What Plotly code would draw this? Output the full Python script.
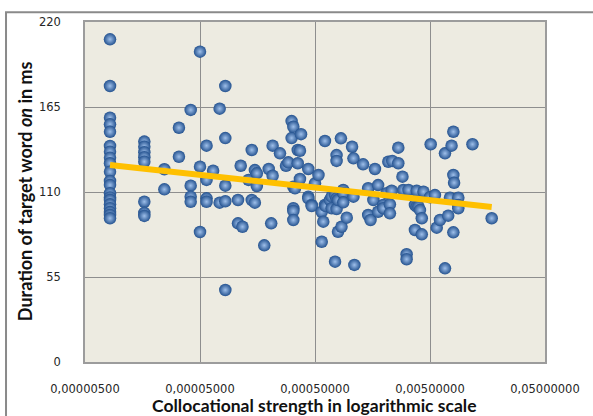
import plotly.graph_objects as go

# Collocational strength (x, log scale) and the durations (ms) observed at each strength
strength_levels = [
    8.25e-6, 1.64e-5, 2.45e-5, 3.28e-5, 4.15e-5, 5.0e-5, 5.7e-5, 6.5e-5, 7.41e-5, 8.3e-5,
    1.07e-4, 1.13e-4, 1.17e-4, 1.32e-4, 1.41e-4, 1.5e-4, 1.56e-4, 1.81e-4, 1.98e-4, 2.08e-4,
    2.14e-4, 2.48e-4, 2.8e-4, 2.93e-4, 3.13e-4, 3.24e-4, 3.35e-4, 3.54e-4, 3.7e-4, 3.78e-4,
    4.37e-4, 4.68e-4, 5.0e-4, 5.36e-4, 5.72e-4, 5.9e-4, 6.1e-4, 6.2e-4, 6.75e-4, 6.98e-4,
    7.47e-4, 7.7e-4, 7.93e-4, 8.4e-4, 8.5e-4, 8.8e-4, 9.44e-4, 1.05e-3, 1.08e-3, 1.1e-3,
    1.31e-3, 1.45e-3, 1.52e-3, 1.61e-3, 1.66e-3, 1.77e-3, 1.96e-3, 2.1e-3, 2.17e-3, 2.24e-3,
    2.32e-3, 2.35e-3, 2.65e-3, 2.88e-3, 2.93e-3, 3.13e-3, 3.25e-3, 3.7e-3, 3.83e-3, 3.97e-3,
    4.09e-3, 4.24e-3, 4.39e-3, 5.0e-3, 5.07e-3, 5.52e-3, 5.72e-3, 6.11e-3, 6.75e-3, 7.2e-3,
    7.46e-3, 7.7e-3, 7.98e-3, 8.1e-3, 8.81e-3, 1.17e-2, 1.72e-2,
]
durations_at_level = [
    [208.8, 178.6, 158.1, 153.8, 149.0, 139.8, 136.1, 132.2, 128.6, 123.1,
     117.1, 114.5, 109.2, 106.5, 104.8, 102.0, 99.5, 97.0, 95.1, 93.0],
    [142.6, 139.3, 135.7, 132.5, 129.6, 103.7, 96.5, 94.5],
    [124.7, 111.7],
    [151.6, 132.8],
    [163.1, 114.1, 107.0, 103.7],
    [200.8, 126.4, 84.1],
    [140.0, 117.8, 105.9, 103.7],
    [123.8],
    [163.9, 103.1],
    [178.6, 144.9, 114.1, 104.0, 46.6],
    [104.8, 89.7],
    [127.0],
    [87.5],
    [117.8],
    [137.2, 104.8],
    [124.2, 103.1],
    [122.1, 113.9],
    [75.5],
    [124.9],
    [89.7],
    [140.0, 120.5],
    [135.0],
    [127.0],
    [129.2],
    [155.9, 144.9],
    [152.2, 113.4, 99.5, 97.7, 91.9],
    [112.4],
    [137.2, 128.6],
    [136.7, 118.4],
    [147.4],
    [124.9, 107.0, 105.9],
    [101.6, 100.9],
    [115.6],
    [121.0],
    [97.2, 77.8],
    [90.8],
    [143.0, 101.6],
    [100.9],
    [104.8],
    [107.0, 99.5],
    [108.0, 64.9],
    [133.9, 130.1, 105.9, 99.0],
    [104.8, 84.3],
    [144.7],
    [87.5],
    [111.3, 109.2, 103.3],
    [93.4],
    [139.3],
    [131.8, 107.0],
    [62.8],
    [127.9],
    [112.4, 95.1],
    [91.9],
    [104.8],
    [124.9],
    [114.5, 97.2],
    [101.6, 99.5],
    [109.2],
    [129.6],
    [102.0, 96.2],
    [110.8],
    [130.1],
    [138.7, 128.6],
    [119.9],
    [111.3],
    [69.7, 66.5],
    [111.3],
    [101.6, 85.4],
    [110.8, 100.5],
    [100.5],
    [98.3],
    [93.0, 82.6],
    [110.2],
    [106.6],
    [140.9],
    [108.0],
    [86.9],
    [91.9],
    [135.0, 60.6],
    [94.7],
    [106.3],
    [140.0],
    [149.0, 121.0, 83.9],
    [116.0],
    [106.3, 101.6, 99.5],
    [140.9],
    [93.0],
]

# Logarithmic trend line end points
trend_x = [8.25e-6, 1.72e-2]
trend_y = [127.5, 100.3]

x_tick_values = [5e-6, 5e-5, 5e-4, 5e-3, 5e-2]
x_tick_labels = ["0,00000500", "0,00005000", "0,00050000", "0,00500000", "0,05000000"]
y_tick_values = [0, 55, 110, 165, 220]
y_tick_labels = ["0", "55", "110", "165", "220"]

xs, ys = [], []
for s, ds in zip(strength_levels, durations_at_level):
    for d in ds:
        xs.append(s)
        ys.append(d)

fig = go.Figure()
fig.add_trace(go.Scatter(
    x=xs, y=ys, mode="markers",
    marker=dict(size=12.5, color="#24528F",
                gradient=dict(type="radial", color="#9EBFEA"),
                line=dict(width=0)),
    showlegend=False, hoverinfo="x+y",
))
fig.add_trace(go.Scatter(
    x=trend_x, y=trend_y, mode="lines",
    line=dict(color="#FFC000", width=6),
    showlegend=False, hoverinfo="skip",
))

tick_font = dict(family="DejaVu Sans, Verdana, sans-serif", size=11.5, color="#262626")
title_font = dict(family="Lato, Open Sans, sans-serif", size=17.5, color="#111111")

fig.update_layout(
    width=593, height=416,
    margin=dict(l=85, r=48, t=22, b=54),
    paper_bgcolor="white",
    plot_bgcolor="#EDEBE1",
    xaxis=dict(
        type="log",
        range=[-5.30103, -1.30103],
        tickmode="array", tickvals=x_tick_values, ticktext=x_tick_labels,
        tickfont=tick_font, ticks="", ticklabelstandoff=15,
        showgrid=True, gridcolor="#8E8E8E", gridwidth=1,
        showline=True, linecolor="#9C9C9C", linewidth=1.5, mirror=True,
        zeroline=False,
    ),
    yaxis=dict(
        range=[0, 220],
        tickmode="array", tickvals=y_tick_values, ticktext=y_tick_labels,
        tickfont=tick_font, ticks="", ticklabelstandoff=20,
        showgrid=True, gridcolor="#8E8E8E", gridwidth=1,
        showline=True, linecolor="#9C9C9C", linewidth=1.5, mirror=True,
        zeroline=False,
    ),
    annotations=[
        dict(text="<b>Collocational strength in logarithmic scale</b>",
             xref="paper", yref="paper", x=0.497, y=-0.129,
             xanchor="center", yanchor="middle", showarrow=False, font=title_font),
        dict(text="<b>Duration of target word <i>on</i> in ms</b>",
             xref="paper", yref="paper", x=-0.130, y=0.503,
             xanchor="center", yanchor="middle", textangle=-90,
             showarrow=False, font=dict(family="Lato, Open Sans, sans-serif", size=18, color="#111111")),
    ],
    shapes=[
        dict(type="rect", xref="paper", yref="paper",
             x0=-0.1717, x1=1.2, y0=-0.2, y1=1.029,
             line=dict(color="#8A8A8A", width=2), fillcolor="rgba(0,0,0,0)",
             layer="below"),
    ],
)

fig.write_html("out.html", config={"displayModeBar": False},
               post_script="document.body.style.margin='0';")
